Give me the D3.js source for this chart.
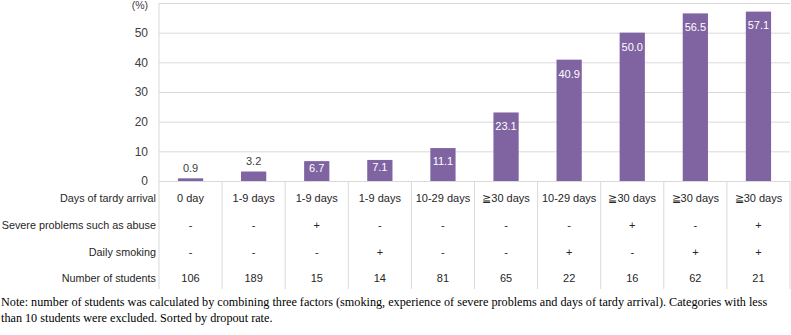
<!DOCTYPE html>
<html lang="en">
<head>
<meta charset="UTF-8">
<title>Dropout rate</title>
<script src="https://cdn.jsdelivr.net/npm/d3@7"></script>
<style>
  body { margin: 0; background: #fff; }
  svg text { font-family: "Liberation Sans", Arial, sans-serif; }
  .note { font-family: "Liberation Serif", "Times New Roman", serif; font-size: 12.2px; fill: #000; }
</style>
</head>
<body>
<svg id="chart" width="791" height="335"></svg>
<script>
  var rates = [0.9, 3.2, 6.7, 7.1, 11.1, 23.1, 40.9, 50.0, 56.5, 57.1];
  var tardy = ["0 day", "1-9 days", "1-9 days", "1-9 days", "10-29 days", "≧30 days", "10-29 days", "≧30 days", "≧30 days", "≧30 days"];
  var abuse = ["-", "-", "+", "-", "-", "-", "-", "+", "-", "+"];
  var smoking = ["-", "-", "-", "+", "-", "-", "+", "-", "+", "+"];
  var students = [106, 189, 15, 14, 81, 65, 22, 16, 62, 21];
  var rowLabels = ["Days of tardy arrival", "Severe problems such as abuse", "Daily smoking", "Number of students"];
  var yTicks = [0, 10, 20, 30, 40, 50, 60];

  var plotLeft = 159, plotRight = 790, plotTop = 3, base = 181, tableBottom = 289;
  var svg = d3.select("#chart");

  var x = d3.scaleBand()
    .domain(d3.range(rates.length))
    .range([plotLeft, plotRight])
    .paddingInner(0)
    .paddingOuter(0);

  var y = d3.scaleLinear().domain([0, 60]).range([base, plotTop]);

  // gridlines + tick labels
  var yAxis = svg.append("g")
    .attr("transform", `translate(${plotLeft},0)`)
    .call(d3.axisLeft(y).tickValues(yTicks)
      .tickSize(-(plotRight - plotLeft))
      .tickPadding(11)
      .tickFormat(d => d === 60 ? "(%)" : d));
  yAxis.select(".domain").remove();
  yAxis.selectAll("line").attr("stroke", "#d9d9d9");
  yAxis.selectAll("text").attr("font-size", "12px").attr("fill", "#404040")
    .attr("font-family", "Liberation Sans, Arial, sans-serif");
  yAxis.selectAll(".tick").filter(d => d === 60).select("text")
    .attr("font-size", "10.5px").attr("dy", "0.55em");

  // left axis line
  svg.append("line")
    .attr("x1", plotLeft).attr("x2", plotLeft)
    .attr("y1", plotTop).attr("y2", tableBottom)
    .attr("stroke", "#d9d9d9");

  // table column separators
  svg.selectAll(".sep")
    .data(d3.range(1, rates.length + 1))
    .enter()
    .append("line")
    .attr("class", "sep")
    .attr("x1", d => x(d - 1) + x.bandwidth())
    .attr("x2", d => x(d - 1) + x.bandwidth())
    .attr("y1", base)
    .attr("y2", tableBottom)
    .attr("stroke", "#d9d9d9");

  var barW = x.bandwidth() * 0.4;

  svg.selectAll(".bar")
    .data(rates)
    .enter()
    .append("rect")
    .attr("class", "bar")
    .attr("x", (d, i) => x(i) + (x.bandwidth() - barW) / 2)
    .attr("y", d => y(d))
    .attr("width", barW)
    .attr("height", d => base - y(d))
    .attr("fill", "#8064a2");

  // value labels
  svg.selectAll(".val")
    .data(rates)
    .enter()
    .append("text")
    .attr("class", "val")
    .attr("x", (d, i) => x(i) + x.bandwidth() / 2)
    .attr("y", function(d) {
      var h = base - y(d);
      if (d < 5) return y(d) - 10;
      return y(d) + Math.min(14, h / 2 - 3);
    })
    .attr("dy", "0.35em")
    .attr("text-anchor", "middle")
    .attr("font-size", "11px")
    .attr("fill", d => d < 5 ? "#404040" : "#ffffff")
    .text(d => d.toFixed(1));

  // table
  var rows = [tardy, abuse, smoking, students];
  var rowY = [198, 225, 252, 278];

  rowLabels.forEach(function(label, r) {
    svg.append("text")
      .attr("x", 156)
      .attr("y", rowY[r])
      .attr("dy", "0.35em")
      .attr("text-anchor", "end")
      .attr("font-size", "10.8px")
      .attr("fill", "#262626")
      .text(label);

    svg.selectAll(".cell" + r)
      .data(rows[r])
      .enter()
      .append("text")
      .attr("x", (d, i) => x(i) + x.bandwidth() / 2)
      .attr("y", rowY[r])
      .attr("dy", "0.35em")
      .attr("text-anchor", "middle")
      .attr("font-size", "11px")
      .attr("fill", "#262626")
      .text(d => d);
  });

  svg.append("text").attr("class", "note").attr("x", 1).attr("y", 306)
    .text("Note: number of students was calculated by combining three factors (smoking, experience of severe problems and days of tardy arrival). Categories with less");
  svg.append("text").attr("class", "note").attr("x", 1).attr("y", 322)
    .text("than 10 students were excluded. Sorted by dropout rate.");
</script>
</body>
</html>
